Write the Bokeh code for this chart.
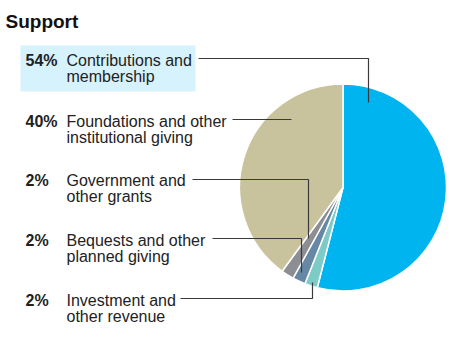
import math
from bokeh.plotting import figure
from bokeh.models import Range1d, ColumnDataSource
from bokeh.core.properties import value
from bokeh.embed import file_html
from bokeh.resources import INLINE

# ---- data ----
categories = ["Contributions and\nmembership",
              "Investment and\nother revenue",
              "Bequests and other\nplanned giving",
              "Government and\nother grants",
              "Foundations and other\ninstitutional giving"]
shares = [54, 2, 2, 2, 40]
pct_labels = ["54%", "2%", "2%", "2%", "40%"]
colors = ["#00b4ef", "#7ccbc6", "#6688a5", "#8c8e94", "#c8c39d"]
title_text = "Support"

# ---- layout (pixel coordinates, y measured from top) ----
W, H = 450, 348
cx, cy, r = 342.5, 187, 103.5
text_shift = -5
row_order = [0, 4, 3, 2, 1]
row_baselines = [65, 126, 185, 245, 305]
line_gap = 16
pct_x, lab_x = 25, 66
leaders = {
    0: ([198, 368, 368], [58, 58, 102]),
    4: ([232, 291], [119, 119]),
    3: ([192, 308, 308], [179, 179, 238]),
    2: ([212, 301, 301], [238, 238, 272]),
    1: ([180, 312, 312], [298, 298, 282]),
}

def Y(px):
    return H - px

p = figure(width=W, height=H, output_backend="svg", toolbar_location=None,
           x_range=Range1d(0, W), y_range=Range1d(0, H), min_border=0)
p.axis.visible = False
p.grid.visible = False
p.outline_line_color = None
p.background_fill_color = "white"

# highlight box for first row
p.quad(left=[20], right=[195], top=[Y(45)], bottom=[Y(91)],
       fill_color="#d6f2fc", line_color=None)

# pie wedges
total = sum(shares)
starts, ends = [], []
acc = 0.0
for s in shares:
    starts.append(math.pi / 2 - 2 * math.pi * acc / total)
    acc += s
    ends.append(math.pi / 2 - 2 * math.pi * acc / total)
src = ColumnDataSource(dict(start=starts, end=ends, color=colors,
                            x=[cx] * len(shares), y=[Y(cy)] * len(shares)))
p.wedge(x="x", y="y", radius=r, start_angle="start", end_angle="end",
        direction="clock", fill_color="color", line_color="white",
        line_width=1.5, source=src)

# leader lines
for idx, (xs, ys) in leaders.items():
    p.line(xs, [Y(v) for v in ys], line_color="#3a3a3a", line_width=1.2)

# labels
font = value("Liberation Sans")
for row, idx in enumerate(row_order):
    base = row_baselines[row] + text_shift
    p.text(x=[pct_x], y=[Y(base)], text=[pct_labels[idx]], text_font=font,
           text_font_size="16px", text_font_style="bold", text_color="#222222",
           text_baseline="alphabetic", text_align="left")
    for k, line in enumerate(categories[idx].split("\n")):
        p.text(x=[lab_x], y=[Y(base + k * line_gap)], text=[line], text_font=font,
               text_font_size="16px", text_color="#222222",
               text_baseline="alphabetic", text_align="left")

# title
p.text(x=[5], y=[Y(25.5 + text_shift)], text=[title_text], text_font=font,
       text_font_size="19px", text_font_style="bold", text_color="#111111",
       text_baseline="alphabetic", text_align="left")

open("out.html", "w").write(file_html(p, INLINE))
